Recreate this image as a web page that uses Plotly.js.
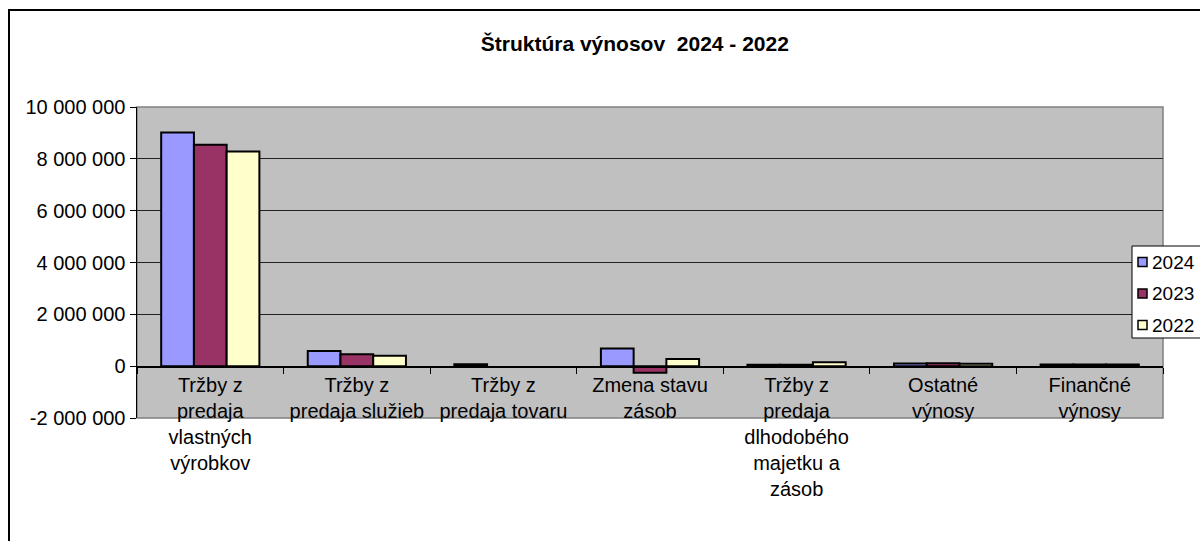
<!DOCTYPE html>
<html>
<head>
<meta charset="utf-8">
<script src="https://cdn.plot.ly/plotly-3.0.1.min.js"></script>
<style>
  html, body { margin: 0; padding: 0; background: #fff; width: 1200px; height: 541px; overflow: hidden; }
  #frame { position: absolute; left: 8px; top: 9px; width: 1300px; height: 700px; border: 2px solid #000; box-sizing: border-box; }
  #chart { position: absolute; left: 0; top: 0; width: 1200px; height: 541px; }
</style>
</head>
<body>
<div id="frame"></div>
<div id="chart"></div>
<script>
const categories = [
  "Tržby z predaja vlastných výrobkov",
  "Tržby z predaja služieb",
  "Tržby z predaja tovaru",
  "Zmena stavu zásob",
  "Tržby z predaja dlhodobého majetku a zásob",
  "Ostatné výnosy",
  "Finančné výnosy"
];
const tickLabels = [
  "Tržby z<br>predaja<br>vlastných<br>výrobkov",
  "Tržby z<br>predaja služieb",
  "Tržby z<br>predaja tovaru",
  "Zmena stavu<br>zásob",
  "Tržby z<br>predaja<br>dlhodobého<br>majetku a<br>zásob",
  "Ostatné<br>výnosy",
  "Finančné<br>výnosy"
];
const seriesNames = ["2024", "2023", "2022"];
const values2024 = [9020000, 590000, 70000, 680000, 50000, 100000, 60000];
const values2023 = [8540000, 460000, null, -250000, 50000, 110000, 60000];
const values2022 = [8280000, 400000, null, 280000, 150000, 90000, 60000];
const seriesColors = ["#9999ff", "#993366", "#ffffcc"];
const yTickVals = [-2000000, 0, 2000000, 4000000, 6000000, 8000000, 10000000];
const yTickText = ["-2 000 000", "0", "2 000 000", "4 000 000", "6 000 000", "8 000 000", "10 000 000"];

const allValues = [values2024, values2023, values2022];
const traces = allValues.map((vals, i) => ({
  type: "bar",
  name: seriesNames[i],
  x: categories,
  y: vals,
  marker: { color: seriesColors[i], line: { color: "#000", width: 2 } },
  hoverinfo: "x+y+name",
  showlegend: false
}));

const fontFam = "Liberation Sans, Arial, sans-serif";
const M = { l: 137, r: 37, t: 107, b: 123 };
const W = 1200, H = 541;
const pw = W - M.l - M.r, ph = H - M.t - M.b;
const px = x => (x - M.l) / pw;
const py = y => (H - M.b - y) / ph;

// custom legend (Excel style): box, small squares, labels
const shapes = [{
  type: "rect", xref: "paper", yref: "paper",
  x0: 0, x1: 1, y0: 0, y1: 1,
  line: { color: "#808080", width: 1.5 },
  layer: "below"
}, {
  type: "rect", xref: "paper", yref: "paper",
  x0: px(1132), x1: px(1215), y0: py(246), y1: py(338),
  fillcolor: "#fff", line: { color: "#000", width: 1 }, layer: "above"
}];
const annotations = [];
seriesNames.forEach((name, i) => {
  const cy = 262 + i * 31.5;
  shapes.push({
    type: "rect", xref: "paper", yref: "paper",
    x0: px(1138), x1: px(1147), y0: py(cy - 4.5), y1: py(cy + 4.5),
    fillcolor: seriesColors[i], line: { color: "#000", width: 1.5 }, layer: "above"
  });
  annotations.push({
    xref: "paper", yref: "paper", x: px(1150), y: py(cy),
    xanchor: "left", yanchor: "middle", showarrow: false,
    text: name, font: { family: fontFam, size: 19, color: "#000" }
  });
});

const layout = {
  width: W,
  height: H,
  paper_bgcolor: "rgba(0,0,0,0)",
  plot_bgcolor: "#c0c0c0",
  margin: { l: M.l, r: M.r, t: M.t, b: M.b, pad: 0, autoexpand: false },
  font: { family: fontFam, size: 20, color: "#000" },
  title: {
    text: "<b>Štruktúra výnosov  2024 - 2022</b>",
    font: { family: fontFam, size: 21, color: "#000" },
    x: 0.529, xref: "container", xanchor: "center",
    y: 1 - 44 / 541, yref: "container", yanchor: "middle"
  },
  barmode: "group",
  bargap: 0.33,
  bargroupgap: 0,
  showlegend: false,
  xaxis: {
    type: "category",
    anchor: "free",
    position: 2 / 12,
    tickmode: "array",
    tickvals: categories,
    ticktext: tickLabels,
    tickson: "boundaries",
    ticks: "outside",
    ticklen: 6,
    tickcolor: "#000",
    showline: true,
    linecolor: "#000",
    linewidth: 1.5,
    showgrid: false,
    zeroline: false,
    tickfont: { family: fontFam, size: 20, color: "#000" },
    tickangle: 0,
    fixedrange: true
  },
  yaxis: {
    range: [-2000000, 10000000],
    tickmode: "array",
    tickvals: yTickVals,
    ticktext: yTickText,
    ticks: "outside",
    ticklen: 6,
    tickcolor: "#000",
    showline: true,
    linecolor: "#000",
    linewidth: 1.5,
    showgrid: true,
    gridcolor: "#222",
    gridwidth: 1,
    zeroline: false,
    tickfont: { family: fontFam, size: 20, color: "#000" },
    fixedrange: true
  },
  shapes: shapes,
  annotations: annotations
};

Plotly.newPlot("chart", traces, layout, { displayModeBar: false, staticPlot: true });
</script>
</body>
</html>
